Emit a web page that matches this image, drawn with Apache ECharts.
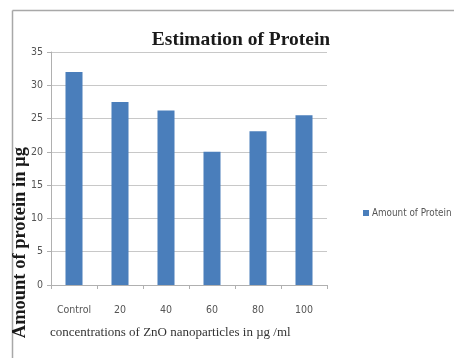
<!DOCTYPE html>
<html>
<head>
<meta charset="utf-8">
<script src="https://cdn.jsdelivr.net/npm/echarts@6/dist/echarts.min.js"></script>
<style>
  html, body { margin: 0; padding: 0; background: #ffffff; }
  #chart { width: 454px; height: 358px; }
</style>
</head>
<body>
<div id="chart"></div>
<script>
// Protein content measured at each ZnO nanoparticle concentration
const categories = ['Control', '20', '40', '60', '80', '100'];
const proteinAmount = [32.0, 27.5, 26.2, 20.0, 23.1, 25.5];
const yTicks = { min: 0, max: 35, interval: 5 };

const seriesName = 'Amount of Protein';
const barColor = '#4a7ebb';
const labelFont = 'Liberation Sans Narrow, DejaVu Sans Condensed, sans-serif';

const chart = echarts.init(document.getElementById('chart'), null, { renderer: 'canvas' });

chart.setOption({
  animation: false,
  backgroundColor: '#ffffff',
  title: {
    text: 'Estimation of Protein',
    left: 236,
    top: 25,
    textAlign: 'center',
    textStyle: {
      fontFamily: 'Liberation Serif',
      fontWeight: 'bold',
      fontSize: 19.5,
      color: '#1a1a1a'
    }
  },
  legend: {
    orient: 'vertical',
    left: 358,
    top: 203,
    itemWidth: 6,
    itemHeight: 6,
    itemGap: 4,
    icon: 'rect',
    textStyle: { fontFamily: labelFont, fontSize: 9.8, color: '#555555', padding: [0, 0, 0, -2] },
    data: [seriesName]
  },
  grid: { left: 51, right: 127, top: 52, bottom: 73, containLabel: false },
  xAxis: {
    type: 'category',
    data: categories,
    axisLine: { lineStyle: { color: '#b0b0b0' } },
    axisTick: { show: true, alignWithLabel: false, length: 4, lineStyle: { color: '#b0b0b0' } },
    axisLabel: { color: '#555555', fontSize: 10.5, margin: 20, fontFamily: labelFont }
  },
  yAxis: {
    type: 'value',
    min: yTicks.min,
    max: yTicks.max,
    interval: yTicks.interval,
    axisLine: { show: true, lineStyle: { color: '#b0b0b0' } },
    axisTick: { show: true, length: 4, lineStyle: { color: '#b0b0b0' } },
    splitLine: { lineStyle: { color: '#c8c8c8' } },
    axisLabel: { color: '#555555', fontSize: 10.5, margin: 8, fontFamily: labelFont }
  },
  series: [{
    name: seriesName,
    type: 'bar',
    data: proteinAmount,
    barWidth: '37%',
    itemStyle: { color: barColor }
  }],
  graphic: [
    // chart frame (left and top edges)
    { type: 'line', shape: { x1: 12.5, y1: 10.5, x2: 12.5, y2: 358 }, style: { stroke: '#a8a8a8', lineWidth: 1.5 }, silent: true },
    { type: 'line', shape: { x1: 12.5, y1: 10.5, x2: 454, y2: 10.5 }, style: { stroke: '#a8a8a8', lineWidth: 1.5 }, silent: true },
    {
      type: 'text',
      left: 11,
      top: 147,
      rotation: Math.PI / 2,
      style: {
        text: 'Amount of protein in µg',
        fontFamily: 'Liberation Serif',
        fontWeight: 'bold',
        fontSize: 18.5,
        fill: '#1a1a1a'
      }
    },
    {
      type: 'text',
      left: 50,
      top: 326,
      style: {
        text: 'concentrations of ZnO nanoparticles in µg /ml',
        fontFamily: 'Liberation Serif',
        fontSize: 13,
        fill: '#333333'
      }
    }
  ]
});
</script>
</body>
</html>
